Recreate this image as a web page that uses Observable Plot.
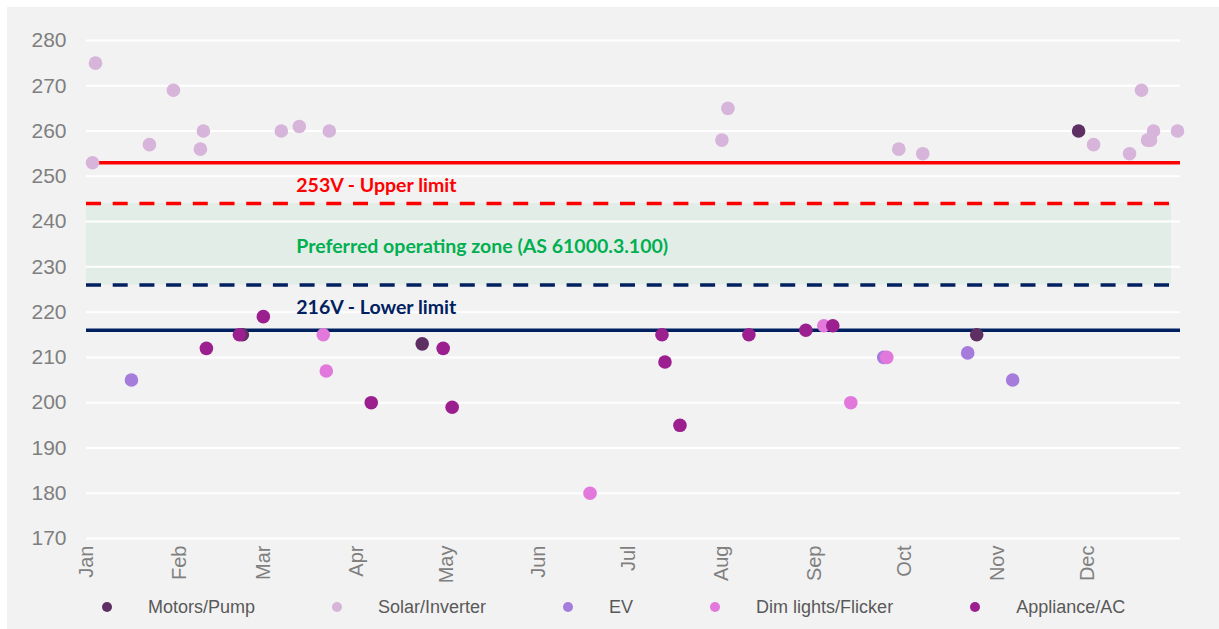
<!DOCTYPE html>
<html>
<head>
<meta charset="utf-8">
<script src="https://cdn.jsdelivr.net/npm/d3@7"></script>
<script src="https://cdn.jsdelivr.net/npm/@observablehq/plot@0.6"></script>
<style>
  html, body { margin: 0; padding: 0; background: #ffffff; }
  #panel { position: absolute; left: 7px; top: 7px; width: 1212px; height: 622px; background: #f2f2f2; }
  #legend { display: flex; align-items: center; height: 30px; padding-left: 95px;
            font-family: "Liberation Sans", Arial, sans-serif; font-size: 18px; color: #595959; }
  .item { display: flex; align-items: center; margin-right: 77px; }
  .swatch { width: 10px; height: 10px; border-radius: 50%; margin-right: 36px; }
</style>
</head>
<body>
<div id="panel"><div id="chart"></div><div id="legend"></div></div>
<script>
// ---- data ----
const seriesNames = ["Motors/Pump", "Solar/Inverter", "EV", "Dim lights/Flicker", "Appliance/AC"];
const seriesColors = ["#5e2f63", "#d7b4d9", "#a57cdb", "#e277dc", "#9b1f8f"];

const motorsPump = [
  ["2023-02-22", 215], ["2023-04-23", 213], ["2023-10-25", 215], ["2023-11-28", 260]
];
const solarInverter = [
  ["2023-01-04", 275], ["2023-01-03", 253], ["2023-01-22", 257], ["2023-01-30", 269],
  ["2023-02-09", 260], ["2023-02-08", 256], ["2023-03-07", 260], ["2023-03-13", 261],
  ["2023-03-23", 260], ["2023-08-03", 265], ["2023-08-01", 258], ["2023-09-29", 256],
  ["2023-10-07", 255], ["2023-12-03", 257], ["2023-12-15", 255], ["2023-12-19", 269],
  ["2023-12-21", 258], ["2023-12-22", 258], ["2023-12-23", 260], ["2023-12-31", 260]
];
const ev = [
  ["2023-01-16", 205], ["2023-09-24", 210], ["2023-10-22", 211], ["2023-11-06", 205]
];
const dimLights = [
  ["2023-03-21", 215], ["2023-03-22", 207], ["2023-06-18", 180], ["2023-09-04", 217],
  ["2023-09-13", 200], ["2023-09-25", 210]
];
const applianceAC = [
  ["2023-02-10", 212], ["2023-02-21", 215], ["2023-03-01", 219], ["2023-04-06", 200],
  ["2023-04-30", 212], ["2023-05-03", 199], ["2023-07-12", 215], ["2023-07-13", 209],
  ["2023-07-18", 195], ["2023-08-10", 215], ["2023-08-29", 216], ["2023-09-07", 217]
];

const upperLimit = 253;
const upperPreferred = 244;
const lowerPreferred = 226;
const lowerLimit = 216;

const yTicks = [170, 180, 190, 200, 210, 220, 230, 240, 250, 260, 270, 280];
const monthTicks = ["2023-01-01","2023-02-01","2023-03-01","2023-04-01","2023-05-01","2023-06-01",
                    "2023-07-01","2023-08-01","2023-09-01","2023-10-01","2023-11-01","2023-12-01"];
const monthLabels = ["Jan","Feb","Mar","Apr","May","Jun","Jul","Aug","Sep","Oct","Nov","Dec"];
const xDomain = ["2023-01-01", "2024-01-01"];
const zoneSpan = ["2023-01-01", "2023-12-29"];

const annotations = [
  { date: "2023-03-12", v: 248,   text: "253V - Upper limit", color: "#ff0000" },
  { date: "2023-03-12", v: 234.5, text: "Preferred operating zone (AS 61000.3.100)", color: "#00b050" },
  { date: "2023-03-12", v: 221,   text: "216V - Lower limit", color: "#002060" }
];

// ---- build table ----
const parse = d3.utcParse("%Y-%m-%d");
const allSeries = [motorsPump, solarInverter, ev, dimLights, applianceAC];
const points = allSeries.flatMap((arr, i) => arr.map(([d, v]) => ({ date: parse(d), v, series: seriesNames[i] })));
const tickDates = monthTicks.map(parse);
const labelFor = new Map(tickDates.map((d, i) => [+d, monthLabels[i]]));

const chart = Plot.plot({
  width: 1212,
  height: 585,
  marginLeft: 79,
  marginRight: 39,
  marginTop: 33,
  marginBottom: 54,
  style: { background: "transparent", fontFamily: "Liberation Sans, Arial, sans-serif" },
  x: { type: "utc", domain: xDomain.map(parse) },
  y: { domain: [170, 280] },
  color: { domain: seriesNames, range: seriesColors },
  marks: [
    Plot.rect([0], { x1: () => parse(zoneSpan[0]), x2: () => parse(zoneSpan[1]), y1: lowerPreferred, y2: upperPreferred, fill: "#e3ede7" }),
    Plot.gridY(yTicks, { stroke: "#ffffff", strokeOpacity: 1, strokeWidth: 2 }),
    Plot.axisY(yTicks, { tickSize: 0, tickPadding: 20, fontSize: 21, fill: "#7f7f7f", label: null }),
    Plot.axisX(tickDates, { tickSize: 0, tickPadding: 7, tickRotate: -90, fontSize: 20, fill: "#7f7f7f",
      label: null, tickFormat: d => labelFor.get(+d) }),
    Plot.ruleY([upperLimit], { stroke: "#ff0000", strokeWidth: 3.5 }),
    Plot.ruleY([upperPreferred], { stroke: "#ff0000", strokeWidth: 3.5, strokeDasharray: "15,11.7" }),
    Plot.ruleY([lowerPreferred], { stroke: "#002060", strokeWidth: 3.5, strokeDasharray: "15,11.7" }),
    Plot.ruleY([lowerLimit], { stroke: "#002060", strokeWidth: 3.5 }),
    Plot.text(annotations, { x: d => parse(d.date), y: "v", text: "text", fill: "color", textAnchor: "start",
      fontSize: 19.5, fontWeight: "bold", fontFamily: "Lato, 'Open Sans', sans-serif" }),
    Plot.dot(points, { x: "date", y: "v", fill: "series", r: 6.8 })
  ]
});
document.getElementById("chart").appendChild(chart);

// legend
const legend = document.getElementById("legend");
seriesNames.forEach((name, i) => {
  const item = document.createElement("span");
  item.className = "item";
  const sw = document.createElement("span");
  sw.className = "swatch";
  sw.style.background = seriesColors[i];
  const label = document.createElement("span");
  label.textContent = name;
  item.appendChild(sw); item.appendChild(label);
  legend.appendChild(item);
});
</script>
</body>
</html>
